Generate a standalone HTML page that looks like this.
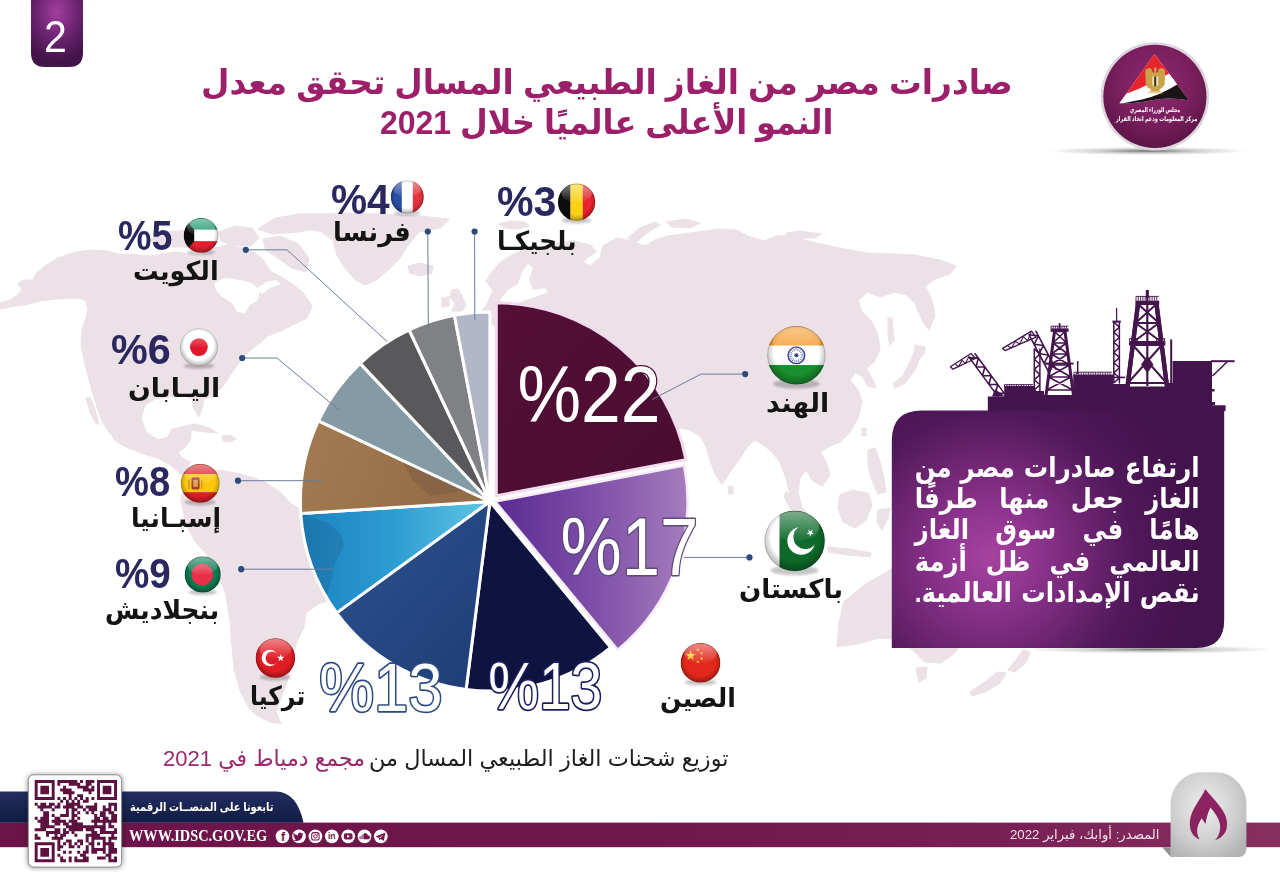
<!DOCTYPE html>
<html lang="ar">
<head>
<meta charset="utf-8">
<title>صادرات مصر من الغاز الطبيعي المسال</title>
<style>
html,body{margin:0;padding:0;background:#fff;}
body{width:1280px;height:872px;position:relative;overflow:hidden;font-family:"Liberation Sans","DejaVu Sans",sans-serif;}
.abs{position:absolute;white-space:nowrap;line-height:1;}
.ar{direction:rtl;unicode-bidi:isolate;}
svg{position:absolute;left:0;top:0;}
svg text{font-family:"Liberation Sans","DejaVu Sans",sans-serif;}

.tx{transform-origin:0 0;}
.para{transform-origin:100% 0;color:#fff;font-weight:700;text-align:justify;text-align-last:justify;white-space:normal;}

</style>
</head>
<body>
<svg width="1280" height="872" viewBox="0 0 1280 872">
<defs>

<radialGradient id="gBadge" cx="50%" cy="18%" r="75%"><stop offset="0" stop-color="#a33fa0"/><stop offset="0.55" stop-color="#6a2270"/><stop offset="1" stop-color="#431448"/></radialGradient>
<linearGradient id="g22" x1="0" y1="0" x2="1" y2="1"><stop offset="0" stop-color="#540f36"/><stop offset="1" stop-color="#4b0c30"/></linearGradient>
<linearGradient id="g17" gradientUnits="userSpaceOnUse" x1="495" y1="0" x2="690" y2="0"><stop offset="0" stop-color="#5a2c92"/><stop offset="0.45" stop-color="#7a4aa6"/><stop offset="1" stop-color="#a67dbd"/></linearGradient>
<linearGradient id="g13b" gradientUnits="userSpaceOnUse" x1="340" y1="560" x2="480" y2="690"><stop offset="0" stop-color="#2a4f8a"/><stop offset="1" stop-color="#1f3d76"/></linearGradient>
<linearGradient id="g9" gradientUnits="userSpaceOnUse" x1="300" y1="0" x2="490" y2="0"><stop offset="0" stop-color="#1b82c0"/><stop offset="0.5" stop-color="#2d9dd2"/><stop offset="1" stop-color="#62c6e5"/></linearGradient>
<linearGradient id="g8" gradientUnits="userSpaceOnUse" x1="300" y1="420" x2="490" y2="500"><stop offset="0" stop-color="#a47b52"/><stop offset="1" stop-color="#8f6a45"/></linearGradient>
<radialGradient id="gBox" gradientUnits="userSpaceOnUse" cx="990" cy="556" r="205"><stop offset="0" stop-color="#a7439f"/><stop offset="0.22" stop-color="#8f3590"/><stop offset="0.48" stop-color="#6e2572"/><stop offset="0.70" stop-color="#50185a"/><stop offset="1" stop-color="#43134c"/></radialGradient>
<linearGradient id="gRig" x1="0" y1="0" x2="0" y2="1"><stop offset="0" stop-color="#4d1c57"/><stop offset="1" stop-color="#43164d"/></linearGradient>
<linearGradient id="gBoxShadow" x1="0" y1="0" x2="1" y2="0"><stop offset="0" stop-color="#000" stop-opacity="0"/><stop offset="0.35" stop-color="#000" stop-opacity="0.35"/><stop offset="1" stop-color="#000" stop-opacity="0"/></linearGradient>
<linearGradient id="gBar" gradientUnits="userSpaceOnUse" x1="0" y1="0" x2="1280" y2="0"><stop offset="0" stop-color="#6c1449"/><stop offset="0.5" stop-color="#70184d"/><stop offset="0.78" stop-color="#772055"/><stop offset="0.91" stop-color="#82285d"/><stop offset="1" stop-color="#88305f"/></linearGradient>
<linearGradient id="gNavy" x1="0" y1="0" x2="0" y2="1"><stop offset="0" stop-color="#212e60"/><stop offset="1" stop-color="#121b43"/></linearGradient>
<radialGradient id="gTab" cx="45%" cy="40%" r="70%"><stop offset="0" stop-color="#ededed"/><stop offset="0.6" stop-color="#cfcfcf"/><stop offset="1" stop-color="#b2b2b2"/></radialGradient>
<radialGradient id="gLogo" cx="50%" cy="38%" r="62%"><stop offset="0" stop-color="#8e2a6f"/><stop offset="0.6" stop-color="#7a1f5e"/><stop offset="1" stop-color="#5c1546"/></radialGradient>
<radialGradient id="gLogoSh" cx="50%" cy="50%" r="50%"><stop offset="0" stop-color="#000" stop-opacity="0.55"/><stop offset="0.5" stop-color="#000" stop-opacity="0.18"/><stop offset="1" stop-color="#000" stop-opacity="0"/></radialGradient>
<linearGradient id="gGloss" x1="0" y1="0" x2="0" y2="1"><stop offset="0" stop-color="#fff" stop-opacity="0.75"/><stop offset="1" stop-color="#fff" stop-opacity="0.05"/></linearGradient>
<radialGradient id="gFlagShade" cx="50%" cy="45%" r="55%"><stop offset="0.7" stop-color="#000" stop-opacity="0"/><stop offset="1" stop-color="#000" stop-opacity="0.32"/></radialGradient>
<filter id="blur2" x="-20%" y="-20%" width="140%" height="140%"><feGaussianBlur stdDeviation="2"/></filter>
<filter id="blur1" x="-20%" y="-20%" width="140%" height="140%"><feGaussianBlur stdDeviation="1.2"/></filter>

</defs>
<path d="M0,303L10,300L18,295L22,289L18,284L24,280L33,280L36,274L45,266L58,258L76,252L92,250L108,251L118,254L130,254L150,256L175,252L200,255L215,248L228,245L242,248L255,253L264,261L270,271L279,276L291,283L303,293L312,306L307,318L296,323L283,330L268,336L253,348L243,357L233,371L223,386L212,396L204,399L202,408L199,417L194,408L192,399L185,396L170,397L155,399L145,405L141,418L146,432L158,440L168,437L172,429L183,427L191,431L190,441L184,448L178,452L182,458L190,462L187,468L183,471L191,473L190,476L181,474L172,466L158,458L147,455L136,451L124,446L116,441L109,432L103,423L98,410L94,397L92,390L88,375L84,360L81,345L82,330L86,318L88,308L85,300L76,298L58,299L40,301L25,305L10,307L0,309ZM86,398L90,397L95,410L99,424L96,424L90,412ZM150,240L165,232L190,230L212,234L215,243L195,247L165,247ZM219,232L235,226L252,228L259,238L250,246L232,245L221,241ZM263,239L280,236L298,244L309,258L306,272L292,268L278,258L266,250ZM258,229L275,218L300,214L330,214L330,225L300,232L272,234ZM296,222L310,215L340,213L380,214L420,216L449,219L440,228L419,232L408,245L400,258L388,270L376,280L365,285L356,280L345,268L337,255L333,240L322,232L305,228ZM408,266L420,263L433,266L432,273L420,276L410,273ZM452,290L458,289L462,296L466,305L462,311L452,311L455,303L450,297ZM442,298L449,297L449,306L442,307ZM499,224L510,221L524,222L529,226L518,229L505,228ZM628,238L640,228L655,222L660,225L648,232L636,242ZM667,222L685,219L700,223L690,228L672,227ZM786,233L800,231L821,234L815,238L795,238ZM486,281L492,272L500,263L510,256L522,251L540,247L560,243L574,241L590,245L596,252L588,257L583,262L590,266L600,258L603,246L617,238L632,241L645,246L655,240L668,236L690,233L704,231L720,229L736,230L750,237L764,241L776,236L789,235L805,240L821,244L845,249L868,253L892,254L915,255L940,260L956,266L950,274L935,279L925,286L932,300L935,315L929,330L922,320L915,303L907,295L895,292L880,297L868,292L858,300L862,312L872,322L878,335L880,350L874,362L866,368L872,378L876,388L868,386L862,376L855,372L850,380L858,390L862,402L858,418L850,432L840,442L828,447L820,452L826,462L830,475L822,486L812,480L806,470L800,478L798,492L802,508L801,521L796,512L790,495L786,478L780,462L772,452L765,446L755,440L748,446L740,458L730,472L722,484L716,476L710,460L706,446L700,436L690,430L680,428L660,430L600,400L560,380L520,350L500,330L480,314L486,306L490,298L493,290ZM915,345L925,347L924,354L920,358L915,370L905,383L895,388L893,384L903,376L910,362L914,352ZM888,318L892,318L894,340L890,345L888,335ZM862,428L866,428L866,436L862,436ZM728,486L733,487L733,494L729,494ZM786,492L796,500L812,520L826,540L822,544L806,528L790,508L784,496ZM828,547L850,549L871,553L870,557L848,555L828,552ZM840,495L852,490L868,493L872,505L866,520L855,528L843,522L838,508ZM868,450L875,448L880,462L884,478L886,492L878,494L872,480L868,465ZM878,510L890,508L888,518L882,530L877,522ZM892,569L866,584L844,602L839,623L837,647L857,644L880,638L900,640L915,652L925,662L940,663L952,655L965,640L972,620L965,600L955,585L948,565L940,575L925,565L905,562ZM916,668L927,667L926,678L919,682ZM1023,650L1030,652L1026,662L1015,672L1008,670L1016,660ZM1006,673L1000,683L985,692L972,696L970,692L985,682L998,672ZM191,473L202,466L212,470L225,471L240,474L254,478L266,483L280,492L290,503L300,510L340,520L365,545L350,580L330,600L318,604L306,613L304,627L297,641L294,650L291,665L287,682L280,700L276,712L281,724L270,722L258,716L249,708L240,690L234,668L232,645L230,620L226,595L217,570L205,552L194,540L186,524L181,500L184,485L190,476ZM181,427L195,424L210,428L217,433L205,432L190,430ZM222,436L230,435L236,439L230,442L223,441Z" fill="#ebe1e7" stroke="#ebe1e7" stroke-width="1.2" stroke-linejoin="round"/><path d="M214,283L225,278L240,280L252,283L260,290L258,300L250,305L245,313L237,312L232,303L222,297L216,290ZM256,289L266,282L276,280L281,284L270,288L262,294ZM500,300L508,290L518,284L522,272L528,264L533,268L529,280L533,290L545,288L548,292L535,297L520,302L508,306Z" fill="#fff"/>

<path d="M905,652.5Q1060,655 1270,648.5L1270,650.5Q1060,657 905,654.5Z" fill="#000" opacity="0.0"/>
<ellipse cx="1150" cy="649.5" rx="125" ry="4.2" fill="url(#gLogoSh)" opacity="0.95"/>
<path d="M891.8,648V440.6Q891.8,410.6 921.8,410.6H1224.2V620Q1224.2,648 1196.2,648Z" fill="url(#gBox)"/>
<g><path d="M987.8,411V396.4H1004.2V386H1034V391H1044V395H1073.2V374.6H1113V384H1126V386.5H1168V383H1172.6V361H1212V405.2H1225.6V411Z" fill="#44154d"/><path d="M1004.5,384.6H1033M1004.5,384.6v2.6M1006.9,384.6v2.6M1009.3,384.6v2.6M1011.7,384.6v2.6M1014.1,384.6v2.6M1016.5,384.6v2.6M1018.9,384.6v2.6M1021.3,384.6v2.6M1023.7,384.6v2.6M1026.1,384.6v2.6M1028.5,384.6v2.6M1030.9,384.6v2.6" fill="none" stroke="#44154d" stroke-width="0.9"/><path d="M1074,372.2H1112M1074.0,372.2v2.6M1076.4,372.2v2.6M1078.8,372.2v2.6M1081.2,372.2v2.6M1083.6,372.2v2.6M1086.0,372.2v2.6M1088.4,372.2v2.6M1090.8,372.2v2.6M1093.2,372.2v2.6M1095.6,372.2v2.6M1098.0,372.2v2.6M1100.4,372.2v2.6M1102.8,372.2v2.6M1105.2,372.2v2.6M1107.6,372.2v2.6M1110.0,372.2v2.6" fill="none" stroke="#44154d" stroke-width="0.9"/><path d="M1211,360.2H1234.6V362.2H1211Z" fill="#44154d"/><path d="M1227,362L1212.5,376" stroke="#44154d" stroke-width="1.6" fill="none"/><path d="M1212,389h2.5v2.5h-2.5zM1212,402h3v3h-3z" fill="#44154d"/><path d="M969.5,357.9L998.7,397.6M975.1,353.7L1004.3,393.4M969.5,357.9L978.4,358.1L976.0,366.7L984.9,367.0L982.5,375.5L991.3,375.8L988.9,384.3L997.8,384.6L995.4,393.2L1004.3,393.4" fill="none" stroke="#44154d" stroke-width="1.6" stroke-linejoin="round" stroke-linecap="round"/><path d="M950.4,366.8L971,353.5L975.5,358.5L953,369.2Z" fill="none" stroke="#44154d" stroke-width="1.3" stroke-linejoin="round"/><path d="M955.5,364.2L958.5,366.6L962,360.4L965.5,363.4L969,356.3L972,360.2" fill="none" stroke="#44154d" stroke-width="1.1"/><path d="M995,389L1005,396.4H992Z" fill="#44154d"/><path d="M1029.1,334.8L1049.1,372.8M1035.9,331.2L1055.9,369.2M1029.1,334.8L1038.4,336.0L1034.1,344.3L1043.4,345.5L1039.1,353.8L1048.4,355.0L1044.1,363.3L1053.4,364.5L1049.1,372.8" fill="none" stroke="#44154d" stroke-width="1.6" stroke-linejoin="round" stroke-linecap="round"/><path d="M1002.6,348.4L1031.5,331.2L1036,337.2L1005,350.6Z" fill="none" stroke="#44154d" stroke-width="1.4" stroke-linejoin="round"/><path d="M1008,346.2L1011.5,347.8L1015.5,341.2L1019.5,344.2L1023.5,336.6L1027.5,340.6L1031,332.5" fill="none" stroke="#44154d" stroke-width="1.1"/><path d="M1034.3,349.0L1034.3,395.0M1039.9,349.0L1039.9,395.0M1034.3,349.0L1039.9,354.1L1034.3,359.2L1039.9,364.3L1034.3,369.4L1039.9,374.6L1034.3,379.7L1039.9,384.8L1034.3,389.9L1039.9,395.0" fill="none" stroke="#44154d" stroke-width="1.5" stroke-linejoin="round" stroke-linecap="round"/><path d="M1054.5,331.5L1046.0,395.5M1065.0,331.5L1073.5,395.5" fill="none" stroke="#44154d" stroke-width="3.0" stroke-linecap="square"/><path d="M1054.5,331.5L1065.0,331.5M1054.5,331.5L1066.5,343.0M1065.0,331.5L1052.9,343.0M1052.9,343.0L1066.5,343.0M1052.9,343.0L1067.9,354.0M1066.5,343.0L1051.5,354.0M1051.5,354.0L1067.9,354.0M1051.5,354.0L1069.4,365.0M1067.9,354.0L1050.0,365.0M1050.0,365.0L1069.4,365.0M1050.0,365.0L1071.0,377.0M1069.4,365.0L1048.4,377.0M1048.4,377.0L1071.0,377.0M1048.4,377.0L1072.7,390.0M1071.0,377.0L1046.7,390.0M1046.7,390.0L1072.7,390.0" fill="none" stroke="#44154d" stroke-width="1.6" stroke-linecap="round"/><path d="M1050.6,328.4H1068.6V331.8H1050.6Z" fill="#44154d"/><path d="M1051,326.2H1068.4M1051.0,326.2v2.4M1053.2,326.2v2.4M1055.4,326.2v2.4M1057.6,326.2v2.4M1059.8,326.2v2.4M1062.0,326.2v2.4M1064.2,326.2v2.4M1066.4,326.2v2.4" fill="none" stroke="#44154d" stroke-width="0.9"/><path d="M1059.6,323.2V331" stroke="#44154d" stroke-width="1.8"/><path d="M1046,362.6H1073.6V364.6H1046Z" fill="#44154d"/><path d="M1077.7,361V374" stroke="#44154d" stroke-width="1.5"/><path d="M1113.8,322.0L1113.8,383.0M1119.4,322.0L1119.4,383.0M1113.8,322.0L1119.4,327.1L1113.8,332.2L1119.4,337.2L1113.8,342.3L1119.4,347.4L1113.8,352.5L1119.4,357.6L1113.8,362.7L1119.4,367.8L1113.8,372.8L1119.4,377.9L1113.8,383.0" fill="none" stroke="#44154d" stroke-width="1.5" stroke-linejoin="round" stroke-linecap="round"/><path d="M1112.4,320.6H1120.8V322.6H1112.4Z" fill="#44154d"/><path d="M1116.6,308V321" stroke="#44154d" stroke-width="1.2"/><path d="M1112,376.6H1125V378.2H1112Z" fill="#44154d"/><path d="M1138.0,304.0L1127.5,386.5M1156.5,304.0L1167.0,386.5" fill="none" stroke="#44154d" stroke-width="4.4" stroke-linecap="square"/><path d="M1138.0,304.0L1156.5,304.0M1138.0,304.0L1159.0,323.0M1156.5,304.0L1135.6,323.0M1135.6,323.0L1159.0,323.0M1135.6,323.0L1161.4,342.0M1159.0,323.0L1133.2,342.0M1133.2,342.0L1161.4,342.0" fill="none" stroke="#44154d" stroke-width="2.0" stroke-linecap="round"/><path d="M1138.0,304.0L1127.5,386.5M1156.5,304.0L1167.0,386.5" fill="none" stroke="#44154d" stroke-width="4.2" stroke-linecap="square"/><path d="M1132.8,345.0L1161.8,345.0M1132.8,345.0L1166.6,383.0M1161.8,345.0L1128.0,383.0M1128.0,383.0L1166.6,383.0" fill="none" stroke="#44154d" stroke-width="2.0" stroke-linecap="round"/><path d="M1147.3,290V386" stroke="#44154d" stroke-width="2.2"/><path d="M1135.4,300.6H1159.2V304.6H1135.4Z" fill="#44154d"/><path d="M1136,296.4H1158.8M1136.0,296.4v4.2M1138.3,296.4v4.2M1140.6,296.4v4.2M1142.9,296.4v4.2M1145.2,296.4v4.2M1147.5,296.4v4.2M1149.8,296.4v4.2M1152.1,296.4v4.2M1154.4,296.4v4.2M1156.7,296.4v4.2" fill="none" stroke="#44154d" stroke-width="0.9"/><path d="M1145.8,290h3v8h-3z" fill="#44154d"/><path d="M1129,341.2H1165.4V345.4H1129Z" fill="#44154d"/><path d="M1129.4,338.6H1138M1129.4,338.6v2.6M1131.4,338.6v2.6M1133.4,338.6v2.6M1135.4,338.6v2.6M1137.4,338.6v2.6" fill="none" stroke="#44154d" stroke-width="0.9"/><path d="M1156.5,338.6H1165M1156.5,338.6v2.6M1158.5,338.6v2.6M1160.5,338.6v2.6M1162.5,338.6v2.6M1164.5,338.6v2.6" fill="none" stroke="#44154d" stroke-width="0.9"/><path d="M1171.2,339.4V386" stroke="#44154d" stroke-width="2"/><path d="M1174.6,364V380" stroke="#44154d" stroke-width="1.2"/><path d="M1147.3,356L1153.5,364.5L1147.3,373L1141,364.5Z" fill="#44154d"/></g>

<path d="M489.9,501.5L610.7,647.5A189.5,189.5 0 0 1 466.1,689.5Z" fill="#0f133f" stroke="#fff" stroke-width="3" stroke-linejoin="round"/>
<path d="M489.9,501.5L466.1,689.5A189.5,189.5 0 0 1 336.6,612.9Z" fill="url(#g13b)" stroke="#fff" stroke-width="3" stroke-linejoin="round"/>
<path d="M489.9,501.5L336.6,612.9A189.5,189.5 0 0 1 300.8,513.4Z" fill="url(#g9)" stroke="#fff" stroke-width="3" stroke-linejoin="round"/>
<path d="M489.9,501.5L300.8,513.4A189.5,189.5 0 0 1 318.4,420.8Z" fill="url(#g8)" stroke="#fff" stroke-width="3" stroke-linejoin="round"/>
<path d="M489.9,501.5L318.4,420.8A189.5,189.5 0 0 1 360.2,363.4Z" fill="#849ba6" stroke="#fff" stroke-width="3" stroke-linejoin="round"/>
<path d="M489.9,501.5L360.2,363.4A189.5,189.5 0 0 1 409.2,330.0Z" fill="#59595b" stroke="#fff" stroke-width="3" stroke-linejoin="round"/>
<path d="M489.9,501.5L409.2,330.0A189.5,189.5 0 0 1 454.4,315.4Z" fill="#808184" stroke="#fff" stroke-width="3" stroke-linejoin="round"/>
<path d="M489.9,501.5L454.4,315.4A189.5,189.5 0 0 1 489.9,312.0Z" fill="#b3b6c7" stroke="#fff" stroke-width="3" stroke-linejoin="round"/>
<path d="M495.3,501.6L684.1,465.6A192.2,192.2 0 0 1 617.8,649.7Z" fill="url(#g17)" stroke="#f6eaf6" stroke-width="2.4" stroke-linejoin="miter"/>
<path d="M496.3,495.8L496.3,302.8A193,193 0 0 1 685.9,459.6Z" fill="url(#g22)" stroke="#f1dcee" stroke-width="3" stroke-linejoin="miter"/>
<clipPath id="pieclip"><path d="M489.9,501.5L335.9,609.3A188.0,188.0 0 0 1 318.4,424.4Z"/></clipPath><g clip-path="url(#pieclip)"><path d="M290,500L300,510L313,518L328,523L340,533L344,544L340,554L334,564L332,577L328,592L322,602L300,640L250,640L250,480ZM440.2,374.6L492.0,370.8L495.3,386.2L524.8,388.1L541.4,392.0L564.6,393.9L576.1,420.9L583.3,432.4L592.8,455.6L605.1,467.1L632.5,467.1L622.9,494.1L602.4,517.3L591.8,536.5L596.3,567.4L576.6,594.4L577.8,605.9L567.3,613.6L558.0,632.9L541.0,644.5L522.9,647.2L518.3,636.8L508.7,617.5L498.8,582.8L504.0,559.7L498.9,536.5L488.6,517.3L490.3,498.0L474.8,494.1L464.5,490.3L443.8,494.1L430.0,496.1L412.9,480.6L399.8,456.7L402.2,436.3L415.2,409.3L425.8,397.7L428.1,386.2Z" fill="#1a1030" opacity="0.11"/></g>
<g><path d="M245.8,249.8L287.0,249.8L387.0,341.5" fill="none" stroke="#6c7c9c" stroke-width="1.0"/><circle cx="245.8" cy="249.8" r="3.1" fill="#2c4a7d"/>
<path d="M242.2,358.0L277.0,358.0L339.0,410.0" fill="none" stroke="#6c7c9c" stroke-width="1.0"/><circle cx="242.2" cy="358.0" r="3.1" fill="#2c4a7d"/>
<path d="M238.0,480.7L322.0,480.7" fill="none" stroke="#6c7c9c" stroke-width="1.0"/><circle cx="238.0" cy="480.7" r="3.1" fill="#2c4a7d"/>
<path d="M241.2,569.2L333.0,569.2" fill="none" stroke="#6c7c9c" stroke-width="1.0"/><circle cx="241.2" cy="569.2" r="3.1" fill="#2c4a7d"/>
<path d="M427.8,231.5L428.3,326.0" fill="none" stroke="#6c7c9c" stroke-width="1.0"/><circle cx="427.8" cy="231.5" r="3.1" fill="#2c4a7d"/>
<path d="M474.6,231.5L474.8,320.0" fill="none" stroke="#6c7c9c" stroke-width="1.0"/><circle cx="474.6" cy="231.5" r="3.1" fill="#2c4a7d"/></g>
<g><path d="M745.2,374.1L701.0,374.1L652.0,399.5" fill="none" stroke="#6c7c9c" stroke-width="1.0"/><circle cx="745.2" cy="374.1" r="3.1" fill="#2c4a7d"/>
<path d="M749.5,557.4L684.0,557.4" fill="none" stroke="#6c7c9c" stroke-width="1.0"/><circle cx="749.5" cy="557.4" r="3.1" fill="#2c4a7d"/></g><text id="n22" transform="translate(517.44,421.52) scale(0.8940,1)" font-size="80.00" fill="#fff" stroke="#4e0d32" stroke-width="2.68" paint-order="stroke" stroke-linejoin="round">%22</text>
<text id="n17" transform="translate(560.45,574.79) scale(0.8367,1)" font-size="82.29" fill="#fff" stroke="#5d4a78" stroke-width="2.87" paint-order="stroke" stroke-linejoin="round">%17</text>
<text id="n13a" transform="translate(488.22,709.39) scale(0.8428,1)" font-size="67.61" fill="#fff" stroke="#1b1d5c" stroke-width="3.56" paint-order="stroke" stroke-linejoin="round">%13</text>
<text id="n13b" transform="translate(319.23,710.56) scale(0.8899,1)" font-size="69.30" fill="#fff" stroke="#2a4a80" stroke-width="3.37" paint-order="stroke" stroke-linejoin="round">%13</text>
<g><ellipse cx="201.1" cy="252.35" rx="13.84" ry="2.77" fill="#000" opacity="0.22" filter="url(#blur1)"/>
<clipPath id="fc1"><circle cx="201.1" cy="235.4" r="17.3"/></clipPath>
<g clip-path="url(#fc1)"><rect x="183.80" y="218.10" width="34.60" height="11.83" fill="#1b9a6c"/><rect x="183.80" y="229.63" width="34.60" height="11.83" fill="#ffffff"/><rect x="183.80" y="241.17" width="34.60" height="11.53" fill="#e3202f"/><path d="M183.80,218.10L194.18,229.63V241.17L183.80,252.70Z" fill="#0a0a0a"/>
<circle cx="201.1" cy="235.4" r="17.3" fill="url(#gFlagShade)"/>
<ellipse cx="201.1" cy="227.10" rx="14.19" ry="8.65" fill="url(#gGloss)" opacity="0.62"/></g>
<circle cx="201.1" cy="235.4" r="17.00" fill="none" stroke="#000" stroke-opacity="0.22" stroke-width="0.8"/></g>
<g><ellipse cx="407.3" cy="213.17" rx="13.20" ry="2.64" fill="#000" opacity="0.22" filter="url(#blur1)"/>
<clipPath id="fc2"><circle cx="407.3" cy="197.0" r="16.5"/></clipPath>
<g clip-path="url(#fc2)"><rect x="390.80" y="180.50" width="11.30" height="33.00" fill="#2a4ea3"/><rect x="401.80" y="180.50" width="11.30" height="33.00" fill="#ffffff"/><rect x="412.80" y="180.50" width="11.00" height="33.00" fill="#e8313f"/>
<circle cx="407.3" cy="197.0" r="16.5" fill="url(#gFlagShade)"/>
<ellipse cx="407.3" cy="189.08" rx="13.53" ry="8.25" fill="url(#gGloss)" opacity="0.62"/></g>
<circle cx="407.3" cy="197.0" r="16.20" fill="none" stroke="#000" stroke-opacity="0.22" stroke-width="0.8"/></g>
<g><ellipse cx="576.6" cy="220.43" rx="14.88" ry="2.98" fill="#000" opacity="0.22" filter="url(#blur1)"/>
<clipPath id="fc3"><circle cx="576.6" cy="202.2" r="18.6"/></clipPath>
<g clip-path="url(#fc3)"><rect x="558.00" y="183.60" width="12.70" height="37.20" fill="#0c0c0c"/><rect x="570.40" y="183.60" width="12.70" height="37.20" fill="#fcd116"/><rect x="582.80" y="183.60" width="12.40" height="37.20" fill="#e8222e"/>
<circle cx="576.6" cy="202.2" r="18.6" fill="url(#gFlagShade)"/>
<ellipse cx="576.6" cy="193.27" rx="15.25" ry="9.30" fill="url(#gGloss)" opacity="0.62"/></g>
<circle cx="576.6" cy="202.2" r="18.30" fill="none" stroke="#000" stroke-opacity="0.22" stroke-width="0.8"/></g>
<g><ellipse cx="198.9" cy="365.92" rx="15.12" ry="3.02" fill="#000" opacity="0.22" filter="url(#blur1)"/>
<clipPath id="fc4"><circle cx="198.9" cy="347.4" r="18.9"/></clipPath>
<g clip-path="url(#fc4)"><rect x="180.00" y="328.50" width="37.80" height="37.80" fill="#ffffff"/><circle cx="198.9" cy="347.09999999999997" r="8.88" fill="#e0162b"/>
<circle cx="198.9" cy="347.4" r="18.9" fill="url(#gFlagShade)"/>
<ellipse cx="198.9" cy="338.33" rx="15.50" ry="9.45" fill="url(#gGloss)" opacity="0.62"/></g>
<circle cx="198.9" cy="347.4" r="18.60" fill="none" stroke="#000" stroke-opacity="0.22" stroke-width="0.8"/></g>
<g><ellipse cx="200.2" cy="502.31" rx="15.52" ry="3.10" fill="#000" opacity="0.22" filter="url(#blur1)"/>
<clipPath id="fc5"><circle cx="200.2" cy="483.3" r="19.4"/></clipPath>
<g clip-path="url(#fc5)"><rect x="180.80" y="463.90" width="38.80" height="10.48" fill="#d91f26"/><rect x="180.80" y="473.99" width="38.80" height="18.62" fill="#fdc50c"/><rect x="180.80" y="492.22" width="38.80" height="10.48" fill="#d91f26"/><rect x="191.47" y="477.48" width="8.15" height="12.03" rx="1.4" fill="#a5432a"/><rect x="193.22" y="479.81" width="4.66" height="6.98" fill="#d8a25a"/><path d="M188.95,479.42v9.70M201.75,479.42v9.70" stroke="#b98a3a" stroke-width="1.1"/>
<circle cx="200.2" cy="483.3" r="19.4" fill="url(#gFlagShade)"/>
<ellipse cx="200.2" cy="473.99" rx="15.91" ry="9.70" fill="url(#gGloss)" opacity="0.62"/></g>
<circle cx="200.2" cy="483.3" r="19.10" fill="none" stroke="#000" stroke-opacity="0.22" stroke-width="0.8"/></g>
<g><ellipse cx="202.7" cy="592.14" rx="14.40" ry="2.88" fill="#000" opacity="0.22" filter="url(#blur1)"/>
<clipPath id="fc6"><circle cx="202.7" cy="574.5" r="18.0"/></clipPath>
<g clip-path="url(#fc6)"><rect x="184.70" y="556.50" width="36.00" height="36.00" fill="#0a7a50"/><circle cx="202.2" cy="574.5" r="10.80" fill="#ea2f4a"/>
<circle cx="202.7" cy="574.5" r="18.0" fill="url(#gFlagShade)"/>
<ellipse cx="202.7" cy="565.86" rx="14.76" ry="9.00" fill="url(#gGloss)" opacity="0.62"/></g>
<circle cx="202.7" cy="574.5" r="17.70" fill="none" stroke="#000" stroke-opacity="0.22" stroke-width="0.8"/></g>
<g><ellipse cx="275.4" cy="677.31" rx="15.76" ry="3.15" fill="#000" opacity="0.22" filter="url(#blur1)"/>
<clipPath id="fc7"><circle cx="275.4" cy="658.0" r="19.7"/></clipPath>
<g clip-path="url(#fc7)"><rect x="255.70" y="638.30" width="39.40" height="39.40" fill="#e11d24"/><circle cx="269.88" cy="658.00" r="8.27" fill="#fff"/><circle cx="272.25" cy="658.00" r="6.60" fill="#e11d24"/><polygon points="284.47,656.78 282.22,658.49 283.03,661.19 280.72,659.58 278.40,661.19 279.22,658.49 276.97,656.78 279.79,656.72 280.72,654.06 281.65,656.72" fill="#fff"/>
<circle cx="275.4" cy="658.0" r="19.7" fill="url(#gFlagShade)"/>
<ellipse cx="275.4" cy="648.54" rx="16.15" ry="9.85" fill="url(#gGloss)" opacity="0.62"/></g>
<circle cx="275.4" cy="658.0" r="19.40" fill="none" stroke="#000" stroke-opacity="0.22" stroke-width="0.8"/></g>
<g><ellipse cx="796.4" cy="383.92" rx="23.36" ry="4.67" fill="#000" opacity="0.22" filter="url(#blur1)"/>
<clipPath id="fc8"><circle cx="796.4" cy="355.3" r="29.2"/></clipPath>
<g clip-path="url(#fc8)"><rect x="767.20" y="326.10" width="58.40" height="19.77" fill="#f59b2d"/><rect x="767.20" y="345.57" width="58.40" height="19.77" fill="#ffffff"/><rect x="767.20" y="365.03" width="58.40" height="19.47" fill="#1a8f2e"/><circle cx="796.4" cy="355.3" r="8.32" fill="#fff" stroke="#2d3a8c" stroke-width="1.4"/><circle cx="796.4" cy="355.3" r="5.84" fill="none" stroke="#7f88c0" stroke-width="2.6" stroke-dasharray="1 1"/><circle cx="796.4" cy="355.3" r="2.04" fill="#2d3a8c"/>
<circle cx="796.4" cy="355.3" r="29.2" fill="url(#gFlagShade)"/>
<ellipse cx="796.4" cy="341.28" rx="23.94" ry="14.60" fill="url(#gGloss)" opacity="0.62"/></g>
<circle cx="796.4" cy="355.3" r="28.90" fill="none" stroke="#000" stroke-opacity="0.22" stroke-width="0.8"/></g>
<g><ellipse cx="794.6" cy="570.50" rx="24.16" ry="4.83" fill="#000" opacity="0.22" filter="url(#blur1)"/>
<clipPath id="fc9"><circle cx="794.6" cy="540.9" r="30.2"/></clipPath>
<g clip-path="url(#fc9)"><rect x="764.40" y="510.70" width="15.10" height="60.40" fill="#ffffff"/><rect x="779.50" y="510.70" width="45.30" height="60.40" fill="#0d6a2b"/><circle cx="801.24" cy="540.90" r="13.89" fill="#fff"/><circle cx="805.47" cy="536.97" r="12.08" fill="#0d6a2b"/><polygon points="812.83,529.74 811.83,532.37 813.94,534.22 811.14,534.08 810.03,536.66 809.29,533.95 806.49,533.70 808.85,532.16 808.22,529.42 810.41,531.18" fill="#fff"/>
<circle cx="794.6" cy="540.9" r="30.2" fill="url(#gFlagShade)"/>
<ellipse cx="794.6" cy="526.40" rx="24.76" ry="15.10" fill="url(#gGloss)" opacity="0.62"/></g>
<circle cx="794.6" cy="540.9" r="29.90" fill="none" stroke="#000" stroke-opacity="0.22" stroke-width="0.8"/></g>
<g><ellipse cx="700.5" cy="682.20" rx="15.84" ry="3.17" fill="#000" opacity="0.22" filter="url(#blur1)"/>
<clipPath id="fc10"><circle cx="700.5" cy="662.8" r="19.8"/></clipPath>
<g clip-path="url(#fc10)"><rect x="680.70" y="643.00" width="39.60" height="39.60" fill="#e2281c"/><polygon points="690.60,650.33 691.86,653.94 695.68,654.02 692.63,656.33 693.74,660.00 690.60,657.81 687.46,660.00 688.57,656.33 685.52,654.02 689.34,653.94" fill="#ffd21e"/><polygon points="697.93,647.95 698.34,649.16 699.62,649.18 698.60,649.95 698.97,651.17 697.93,650.44 696.88,651.17 697.25,649.95 696.23,649.18 697.51,649.16" fill="#ffd21e"/><polygon points="701.69,651.51 702.11,652.72 703.38,652.75 702.37,653.52 702.74,654.74 701.69,654.01 700.64,654.74 701.01,653.52 699.99,652.75 701.27,652.72" fill="#ffd21e"/><polygon points="701.69,656.66 702.11,657.87 703.38,657.89 702.37,658.66 702.74,659.89 701.69,659.16 700.64,659.89 701.01,658.66 699.99,657.89 701.27,657.87" fill="#ffd21e"/><polygon points="697.93,660.03 698.34,661.23 699.62,661.26 698.60,662.03 698.97,663.25 697.93,662.52 696.88,663.25 697.25,662.03 696.23,661.26 697.51,661.23" fill="#ffd21e"/>
<circle cx="700.5" cy="662.8" r="19.8" fill="url(#gFlagShade)"/>
<ellipse cx="700.5" cy="653.30" rx="16.24" ry="9.90" fill="url(#gGloss)" opacity="0.62"/></g>
<circle cx="700.5" cy="662.8" r="19.50" fill="none" stroke="#000" stroke-opacity="0.22" stroke-width="0.8"/></g>

<ellipse cx="1148" cy="151" rx="100" ry="4.2" fill="url(#gLogoSh)"/>
<circle cx="1154.9" cy="96.4" r="54.2" fill="#dcd6de"/>
<circle cx="1154.9" cy="96.4" r="51.6" fill="url(#gLogo)"/>
<clipPath id="tri"><path d="M1154.5,53.9L1189.2,100.6Q1170,96.5 1152,100.2Q1135,103.6 1119.4,103.6Z"/></clipPath>
<g clip-path="url(#tri)">
<rect x="1115" y="50" width="80" height="56" fill="#ffffff"/>
<path d="M1115,50H1195V83L1170,73Q1150,84 1130,95L1115,100Z" fill="#e5252b"/>
<path d="M1195,108V84.5L1178,84Q1160,95.5 1142,99.5L1119,104V108Z" fill="#1a1416"/>
<path d="M1115,104Q1140,98 1160,86Q1172,79 1195,82V76Q1172,71 1158,79Q1138,91 1115,97Z" fill="#ffffff"/>
</g>
<path d="M1155.2,66.8l1.7,2.6l-1,1.5l0.7,2l1.6,-1.4l0.6,-2.6l2.2,-1l2.2,0.6l2,1.8l-0.6,14.8l-2.6,2.8l-2.6,1.4l0.8,2.4h-10l0.8,-2.4l-2.6,-1.4l-2.6,-2.8l-0.6,-14.8l2,-1.8l2.2,-0.6l2.2,1l0.6,2.6l1.6,1.4l0.7,-2l-1,-1.5z" fill="#c9a24a"/>
<path d="M1152.2,76.5h6v8.5l-3,2.6l-3,-2.6z" fill="#f0e2b0"/><path d="M1154.2,76.5h2v10h-2z" fill="#3a2a1a"/>
<path d="M1148,91.6h14.4v1.8h-14.4z" fill="#e6d28c"/>


<rect x="0" y="822.6" width="1280" height="24.6" fill="url(#gBar)"/>
<path d="M0,791.5H276Q297,792 303.5,822.8H0Z" fill="url(#gNavy)"/>
<rect x="26.5" y="773.5" width="97" height="95.5" rx="7" fill="#000" opacity="0.28" filter="url(#blur2)"/>
<rect x="28.3" y="774.8" width="93.3" height="92.3" rx="5.5" fill="#fff" stroke="#8c8c8c" stroke-width="1"/>
<path d="M34.70,780.00h19.96v2.95h-19.96zM57.38,780.00h19.96v2.95h-19.96zM80.05,780.00h2.95v2.95h-2.95zM85.72,780.00h8.62v2.95h-8.62zM97.06,780.00h19.96v2.95h-19.96zM34.70,782.83h2.95v2.95h-2.95zM51.71,782.83h2.95v2.95h-2.95zM57.38,782.83h2.95v2.95h-2.95zM68.71,782.83h11.46v2.95h-11.46zM85.72,782.83h5.79v2.95h-5.79zM97.06,782.83h2.95v2.95h-2.95zM114.07,782.83h2.95v2.95h-2.95zM34.70,785.67h2.95v2.95h-2.95zM40.37,785.67h8.62v2.95h-8.62zM51.71,785.67h2.95v2.95h-2.95zM63.04,785.67h2.95v2.95h-2.95zM77.22,785.67h11.46v2.95h-11.46zM91.39,785.67h2.95v2.95h-2.95zM97.06,785.67h2.95v2.95h-2.95zM102.73,785.67h8.62v2.95h-8.62zM114.07,785.67h2.95v2.95h-2.95zM34.70,788.50h2.95v2.95h-2.95zM40.37,788.50h8.62v2.95h-8.62zM51.71,788.50h2.95v2.95h-2.95zM60.21,788.50h11.46v2.95h-11.46zM82.89,788.50h11.46v2.95h-11.46zM97.06,788.50h2.95v2.95h-2.95zM102.73,788.50h8.62v2.95h-8.62zM114.07,788.50h2.95v2.95h-2.95zM34.70,791.34h2.95v2.95h-2.95zM40.37,791.34h8.62v2.95h-8.62zM51.71,791.34h2.95v2.95h-2.95zM63.04,791.34h11.46v2.95h-11.46zM88.56,791.34h2.95v2.95h-2.95zM97.06,791.34h2.95v2.95h-2.95zM102.73,791.34h8.62v2.95h-8.62zM114.07,791.34h2.95v2.95h-2.95zM34.70,794.17h2.95v2.95h-2.95zM51.71,794.17h2.95v2.95h-2.95zM68.71,794.17h2.95v2.95h-2.95zM77.22,794.17h5.79v2.95h-5.79zM97.06,794.17h2.95v2.95h-2.95zM114.07,794.17h2.95v2.95h-2.95zM34.70,797.01h19.96v2.95h-19.96zM57.38,797.01h2.95v2.95h-2.95zM63.04,797.01h2.95v2.95h-2.95zM68.71,797.01h2.95v2.95h-2.95zM74.38,797.01h2.95v2.95h-2.95zM80.05,797.01h2.95v2.95h-2.95zM85.72,797.01h2.95v2.95h-2.95zM91.39,797.01h2.95v2.95h-2.95zM97.06,797.01h19.96v2.95h-19.96zM60.21,799.84h2.95v2.95h-2.95zM65.88,799.84h2.95v2.95h-2.95zM71.55,799.84h2.95v2.95h-2.95zM77.22,799.84h2.95v2.95h-2.95zM82.89,799.84h5.79v2.95h-5.79zM34.70,802.68h2.95v2.95h-2.95zM40.37,802.68h5.79v2.95h-5.79zM48.87,802.68h5.79v2.95h-5.79zM57.38,802.68h2.95v2.95h-2.95zM65.88,802.68h14.29v2.95h-14.29zM94.22,802.68h2.95v2.95h-2.95zM108.40,802.68h8.62v2.95h-8.62zM37.53,805.51h14.29v2.95h-14.29zM54.54,805.51h5.79v2.95h-5.79zM63.04,805.51h11.46v2.95h-11.46zM77.22,805.51h5.79v2.95h-5.79zM85.72,805.51h11.46v2.95h-11.46zM102.73,805.51h2.95v2.95h-2.95zM108.40,805.51h2.95v2.95h-2.95zM114.07,805.51h2.95v2.95h-2.95zM40.37,808.34h2.95v2.95h-2.95zM51.71,808.34h2.95v2.95h-2.95zM65.88,808.34h2.95v2.95h-2.95zM71.55,808.34h5.79v2.95h-5.79zM82.89,808.34h2.95v2.95h-2.95zM88.56,808.34h8.62v2.95h-8.62zM102.73,808.34h8.62v2.95h-8.62zM114.07,808.34h2.95v2.95h-2.95zM43.20,811.18h5.79v2.95h-5.79zM65.88,811.18h2.95v2.95h-2.95zM71.55,811.18h2.95v2.95h-2.95zM77.22,811.18h2.95v2.95h-2.95zM85.72,811.18h2.95v2.95h-2.95zM91.39,811.18h2.95v2.95h-2.95zM99.89,811.18h5.79v2.95h-5.79zM108.40,811.18h5.79v2.95h-5.79zM43.20,814.01h5.79v2.95h-5.79zM51.71,814.01h2.95v2.95h-2.95zM60.21,814.01h8.62v2.95h-8.62zM71.55,814.01h5.79v2.95h-5.79zM94.22,814.01h2.95v2.95h-2.95zM99.89,814.01h5.79v2.95h-5.79zM111.23,814.01h5.79v2.95h-5.79zM34.70,816.85h2.95v2.95h-2.95zM40.37,816.85h8.62v2.95h-8.62zM54.54,816.85h5.79v2.95h-5.79zM71.55,816.85h2.95v2.95h-2.95zM77.22,816.85h2.95v2.95h-2.95zM94.22,816.85h5.79v2.95h-5.79zM102.73,816.85h5.79v2.95h-5.79zM111.23,816.85h5.79v2.95h-5.79zM37.53,819.68h11.46v2.95h-11.46zM51.71,819.68h14.29v2.95h-14.29zM68.71,819.68h8.62v2.95h-8.62zM91.39,819.68h25.63v2.95h-25.63zM40.37,822.52h8.62v2.95h-8.62zM54.54,822.52h5.79v2.95h-5.79zM63.04,822.52h5.79v2.95h-5.79zM71.55,822.52h11.46v2.95h-11.46zM94.22,822.52h2.95v2.95h-2.95zM102.73,822.52h2.95v2.95h-2.95zM108.40,822.52h2.95v2.95h-2.95zM40.37,825.35h14.29v2.95h-14.29zM65.88,825.35h39.80v2.95h-39.80zM108.40,825.35h5.79v2.95h-5.79zM34.70,828.19h11.46v2.95h-11.46zM54.54,828.19h5.79v2.95h-5.79zM63.04,828.19h2.95v2.95h-2.95zM68.71,828.19h14.29v2.95h-14.29zM85.72,828.19h8.62v2.95h-8.62zM99.89,828.19h5.79v2.95h-5.79zM114.07,828.19h2.95v2.95h-2.95zM46.04,831.02h14.29v2.95h-14.29zM63.04,831.02h5.79v2.95h-5.79zM71.55,831.02h2.95v2.95h-2.95zM91.39,831.02h5.79v2.95h-5.79zM99.89,831.02h17.13v2.95h-17.13zM34.70,833.86h2.95v2.95h-2.95zM46.04,833.86h2.95v2.95h-2.95zM54.54,833.86h2.95v2.95h-2.95zM60.21,833.86h5.79v2.95h-5.79zM74.38,833.86h2.95v2.95h-2.95zM85.72,833.86h14.29v2.95h-14.29zM111.23,833.86h2.95v2.95h-2.95zM34.70,836.69h5.79v2.95h-5.79zM51.71,836.69h11.46v2.95h-11.46zM85.72,836.69h2.95v2.95h-2.95zM91.39,836.69h14.29v2.95h-14.29zM108.40,836.69h8.62v2.95h-8.62zM57.38,839.52h2.95v2.95h-2.95zM65.88,839.52h5.79v2.95h-5.79zM77.22,839.52h5.79v2.95h-5.79zM85.72,839.52h2.95v2.95h-2.95zM91.39,839.52h2.95v2.95h-2.95zM102.73,839.52h2.95v2.95h-2.95zM108.40,839.52h2.95v2.95h-2.95zM34.70,842.36h19.96v2.95h-19.96zM57.38,842.36h2.95v2.95h-2.95zM63.04,842.36h2.95v2.95h-2.95zM68.71,842.36h2.95v2.95h-2.95zM74.38,842.36h2.95v2.95h-2.95zM80.05,842.36h2.95v2.95h-2.95zM88.56,842.36h5.79v2.95h-5.79zM97.06,842.36h2.95v2.95h-2.95zM102.73,842.36h11.46v2.95h-11.46zM34.70,845.19h2.95v2.95h-2.95zM51.71,845.19h2.95v2.95h-2.95zM57.38,845.19h5.79v2.95h-5.79zM68.71,845.19h5.79v2.95h-5.79zM77.22,845.19h2.95v2.95h-2.95zM85.72,845.19h2.95v2.95h-2.95zM91.39,845.19h2.95v2.95h-2.95zM102.73,845.19h2.95v2.95h-2.95zM108.40,845.19h5.79v2.95h-5.79zM34.70,848.03h2.95v2.95h-2.95zM40.37,848.03h8.62v2.95h-8.62zM51.71,848.03h2.95v2.95h-2.95zM57.38,848.03h2.95v2.95h-2.95zM85.72,848.03h2.95v2.95h-2.95zM91.39,848.03h14.29v2.95h-14.29zM108.40,848.03h8.62v2.95h-8.62zM34.70,850.86h2.95v2.95h-2.95zM40.37,850.86h8.62v2.95h-8.62zM51.71,850.86h2.95v2.95h-2.95zM63.04,850.86h2.95v2.95h-2.95zM68.71,850.86h2.95v2.95h-2.95zM77.22,850.86h2.95v2.95h-2.95zM82.89,850.86h5.79v2.95h-5.79zM91.39,850.86h5.79v2.95h-5.79zM102.73,850.86h2.95v2.95h-2.95zM108.40,850.86h8.62v2.95h-8.62zM34.70,853.70h2.95v2.95h-2.95zM40.37,853.70h8.62v2.95h-8.62zM51.71,853.70h2.95v2.95h-2.95zM57.38,853.70h2.95v2.95h-2.95zM80.05,853.70h5.79v2.95h-5.79zM105.56,853.70h5.79v2.95h-5.79zM34.70,856.53h2.95v2.95h-2.95zM51.71,856.53h2.95v2.95h-2.95zM60.21,856.53h2.95v2.95h-2.95zM68.71,856.53h2.95v2.95h-2.95zM74.38,856.53h2.95v2.95h-2.95zM82.89,856.53h5.79v2.95h-5.79zM97.06,856.53h8.62v2.95h-8.62zM108.40,856.53h2.95v2.95h-2.95zM114.07,856.53h2.95v2.95h-2.95zM34.70,859.37h19.96v2.95h-19.96zM60.21,859.37h5.79v2.95h-5.79zM68.71,859.37h2.95v2.95h-2.95zM74.38,859.37h14.29v2.95h-14.29zM108.40,859.37h8.62v2.95h-8.62z" fill="#5c113f"/>
<circle cx="282.5" cy="836.3" r="6.85" fill="#fff"/><text x="283.0" y="840.9" font-size="12.5" font-weight="700" text-anchor="middle" fill="#761850">f</text><circle cx="299.0" cy="836.3" r="6.85" fill="#fff"/><path d="M303.3,833.6999999999999q-0.6,0.3 -1.2,0.35q0.7,-0.45 0.95,-1.2q-0.65,0.4 -1.4,0.55a2.1,2.1 0 0 0 -3.65,1.9q-2.7,-0.15 -4.4,-2.3a2.1,2.1 0 0 0 0.65,2.85q-0.55,0 -0.95,-0.25q0,1.6 1.7,2.1q-0.5,0.15 -0.95,0.05q0.4,1.3 1.95,1.45q-1.4,1.1 -3.15,0.9q1.5,0.95 3.3,0.95q4.1,0 5.9,-3.6q0.55,-1.2 0.5,-2.65q0.55,-0.4 0.95,-1.05z" fill="#761850"/><circle cx="315.4" cy="836.3" r="6.85" fill="#fff"/><rect x="311.7" y="832.5999999999999" width="7.4" height="7.4" rx="2.1" fill="none" stroke="#761850" stroke-width="1.05"/><circle cx="315.4" cy="836.3" r="1.75" fill="none" stroke="#761850" stroke-width="1.0"/><circle cx="317.5" cy="834.1999999999999" r="0.5" fill="#761850"/><circle cx="331.8" cy="836.3" r="6.85" fill="#fff"/><text x="331.8" y="839.1999999999999" font-size="8.4" font-weight="700" text-anchor="middle" fill="#761850" textLength="7.6" lengthAdjust="spacingAndGlyphs">in</text><circle cx="348.2" cy="836.3" r="6.85" fill="#fff"/><rect x="343.8" y="833.1999999999999" width="8.8" height="6.2" rx="1.9" fill="#761850"/><path d="M347.09999999999997,834.6999999999999v3.2l2.8,-1.6z" fill="#fff"/><circle cx="364.5" cy="836.3" r="6.85" fill="#fff"/><path d="M363.9,838.9v-5q1,-0.7 2.1,-0.3q1.5,0.55 1.7,2.2q1.9,-0.3 2.1,1.5q0,1.5 -1.5,1.6zM363.0,838.9v-4.4M361.9,838.9v-3.6M360.8,838.9v-2.6M359.7,838.6999999999999v-1.8" fill="#761850" stroke="#761850" stroke-width="0.75"/><circle cx="380.8" cy="836.3" r="6.85" fill="#fff"/><path d="M376.2,836.1999999999999l8.6,-3.5q0.7,-0.2 0.55,0.6l-1.45,6.9q-0.2,0.75 -0.9,0.35l-2.25,-1.65l-1.1,1.05q-0.3,0.3 -0.45,-0.15l-0.55,-2.0l-2.3,-0.75q-0.75,-0.3 -0.15,-0.85z" fill="#761850"/><path d="M379.25,837.8l4.1,-3.0l-3.2,3.5z" fill="#fff"/>
<path d="M1162.2,847.2L1170.8,857V847.2Z" fill="#8f8f8f"/>
<path d="M1170.6,857V803.7A30.6,31.5 0 0 1 1201.2,772.2H1215.8A30.6,31.5 0 0 1 1246.4,803.7V849.5A7.5,7.5 0 0 1 1238.9,857Z" fill="url(#gTab)"/>
<path d="M1205.25,788.91C1201.39,798.55 1190.86,808.82 1189.83,821.67C1189.06,830.92 1193.68,837.35 1199.60,839.28C1196.00,833.49 1196.00,826.81 1201.65,818.20L1205.51,823.99C1206.28,817.82 1208.08,812.68 1210.39,807.54C1217.07,815.25 1220.67,821.42 1220.15,828.35C1219.77,833.49 1218.10,837.35 1215.01,840.17C1223.49,837.35 1227.86,830.92 1226.96,821.67C1225.81,810.11 1214.24,800.09 1205.25,788.91Z" fill="#8a2360"/>


<path d="M31,0H83V53Q83,67 69,67H45Q31,67 31,53Z" fill="url(#gBadge)"/>

</svg>
<div class="abs tx" id="badge" style="left:44.25px;top:14.60px;font-size:44.00px;transform:scaleX(0.9338);color:#fff;">2</div>
<div class="abs tx ar" id="t1" style="left:200.71px;top:66.19px;font-size:33.70px;transform:scaleX(0.9722);color:#9c1f69;font-weight:700;">صادرات مصر من الغاز الطبيعي المسال تحقق معدل</div>
<div class="abs tx ar" id="t2" style="left:380.04px;top:106.19px;font-size:33.70px;transform:scaleX(0.9490);color:#9c1f69;font-weight:700;">النمو الأعلى عالميًا خلال 2021</div>
<div class="abs tx" id="p5" style="left:118.27px;top:213.65px;font-size:43.43px;transform:scaleX(0.8680);color:#2a285f;font-weight:700;">%5</div>
<div class="abs tx" id="p4" style="left:331.18px;top:178.07px;font-size:43.29px;transform:scaleX(0.9372);color:#2a285f;font-weight:700;">%4</div>
<div class="abs tx" id="p3" style="left:496.57px;top:179.80px;font-size:42.68px;transform:scaleX(0.9645);color:#2a285f;font-weight:700;">%3</div>
<div class="abs tx" id="p6" style="left:110.96px;top:327.98px;font-size:42.82px;transform:scaleX(0.9664);color:#2a285f;font-weight:700;">%6</div>
<div class="abs tx" id="p8" style="left:115.05px;top:460.90px;font-size:41.97px;transform:scaleX(0.9102);color:#2a285f;font-weight:700;">%8</div>
<div class="abs tx" id="p9" style="left:115.14px;top:552.70px;font-size:41.97px;transform:scaleX(0.9202);color:#2a285f;font-weight:700;">%9</div>
<div class="abs tx ar" id="nkw" style="left:133.27px;top:257.72px;font-size:26.43px;transform:scaleX(0.9647);color:#141414;font-weight:700;">الكويت</div>
<div class="abs tx ar" id="nfr" style="left:332.56px;top:218.82px;font-size:26.43px;transform:scaleX(0.9669);color:#141414;font-weight:700;">فرنسا</div>
<div class="abs tx ar" id="nbe" style="left:497.02px;top:228.42px;font-size:26.43px;transform:scaleX(0.9366);color:#141414;font-weight:700;">بلجيكـا</div>
<div class="abs tx ar" id="njp" style="left:127.80px;top:375.42px;font-size:26.43px;transform:scaleX(1.0112);color:#141414;font-weight:700;">اليـابان</div>
<div class="abs tx ar" id="nes" style="left:131.30px;top:505.42px;font-size:26.43px;transform:scaleX(0.9442);color:#141414;font-weight:700;">إسبـانيا</div>
<div class="abs tx ar" id="nbd" style="left:104.70px;top:596.82px;font-size:26.43px;transform:scaleX(0.9450);color:#141414;font-weight:700;">بنجلاديش</div>
<div class="abs tx ar" id="ntr" style="left:249.73px;top:682.92px;font-size:26.43px;transform:scaleX(0.8834);color:#141414;font-weight:700;">تركيا</div>
<div class="abs tx ar" id="nin" style="left:766.20px;top:390.02px;font-size:26.43px;transform:scaleX(1.0107);color:#141414;font-weight:700;">الهند</div>
<div class="abs tx ar" id="npk" style="left:738.63px;top:575.92px;font-size:26.43px;transform:scaleX(0.9883);color:#141414;font-weight:700;">باكستان</div>
<div class="abs tx ar" id="ncn" style="left:660.29px;top:685.42px;font-size:26.43px;transform:scaleX(0.9545);color:#141414;font-weight:700;">الصين</div>
<div class="abs tx ar" id="cap1" style="left:368.73px;top:747.27px;font-size:22.93px;transform:scaleX(0.9762);color:#1e1e1e;">توزيع شحنات الغاز الطبيعي المسال من</div>
<div class="abs tx ar" id="cap2" style="left:162.90px;top:747.27px;font-size:22.93px;transform:scaleX(0.9613);color:#9a2a6c;">مجمع دمياط في 2021</div>
<div class="abs tx ar" id="follow" style="left:129.81px;top:801.14px;font-size:12.17px;transform:scaleX(0.8122);color:#fff;font-weight:700;">تابعونا على المنصــات الرقمية</div>
<div class="abs tx" id="www" style="left:129.06px;top:827.98px;font-size:15.67px;transform:scaleX(0.9150);color:#fff;font-weight:700;font-family:'Liberation Serif','DejaVu Sans',serif;">WWW.IDSC.GOV.EG</div>
<div class="abs tx ar" id="src" style="left:1010.34px;top:828.28px;font-size:13.42px;transform:scaleX(0.9874);color:#f3dfea;">المصدر: أوابك، فبراير 2022</div>
<div class="abs tx ar" id="lg1" style="left:1130.23px;top:106.74px;font-size:6.71px;transform:scaleX(0.6797);color:#fff;font-weight:700;">مجلس الوزراء المصري</div>
<div class="abs tx ar" id="lg2" style="left:1116.20px;top:115.64px;font-size:6.71px;transform:scaleX(0.7367);color:#fff;font-weight:700;">مركز المعلومات ودعم اتخاذ القرار</div>
<div class="abs ar para" id="para0" style="left:868.97px;width:330.63px;top:452.59px;font-size:28.25px;transform:scaleX(0.8620);">ارتفاع صادرات مصر من</div>
<div class="abs ar para" id="para1" style="left:868.97px;width:330.63px;top:484.04px;font-size:28.25px;transform:scaleX(0.8620);">الغاز جعل منها طرفًا</div>
<div class="abs ar para" id="para2" style="left:868.97px;width:330.63px;top:515.49px;font-size:28.25px;transform:scaleX(0.8620);">هامًا في سوق الغاز</div>
<div class="abs ar para" id="para3" style="left:868.97px;width:330.63px;top:546.94px;font-size:28.25px;transform:scaleX(0.8620);">العالمي في ظل أزمة</div>
<div class="abs ar para" id="para4" style="left:868.97px;width:330.63px;top:578.39px;font-size:28.25px;transform:scaleX(0.8620);">نقص الإمدادات العالمية.</div>
</body>
</html>
